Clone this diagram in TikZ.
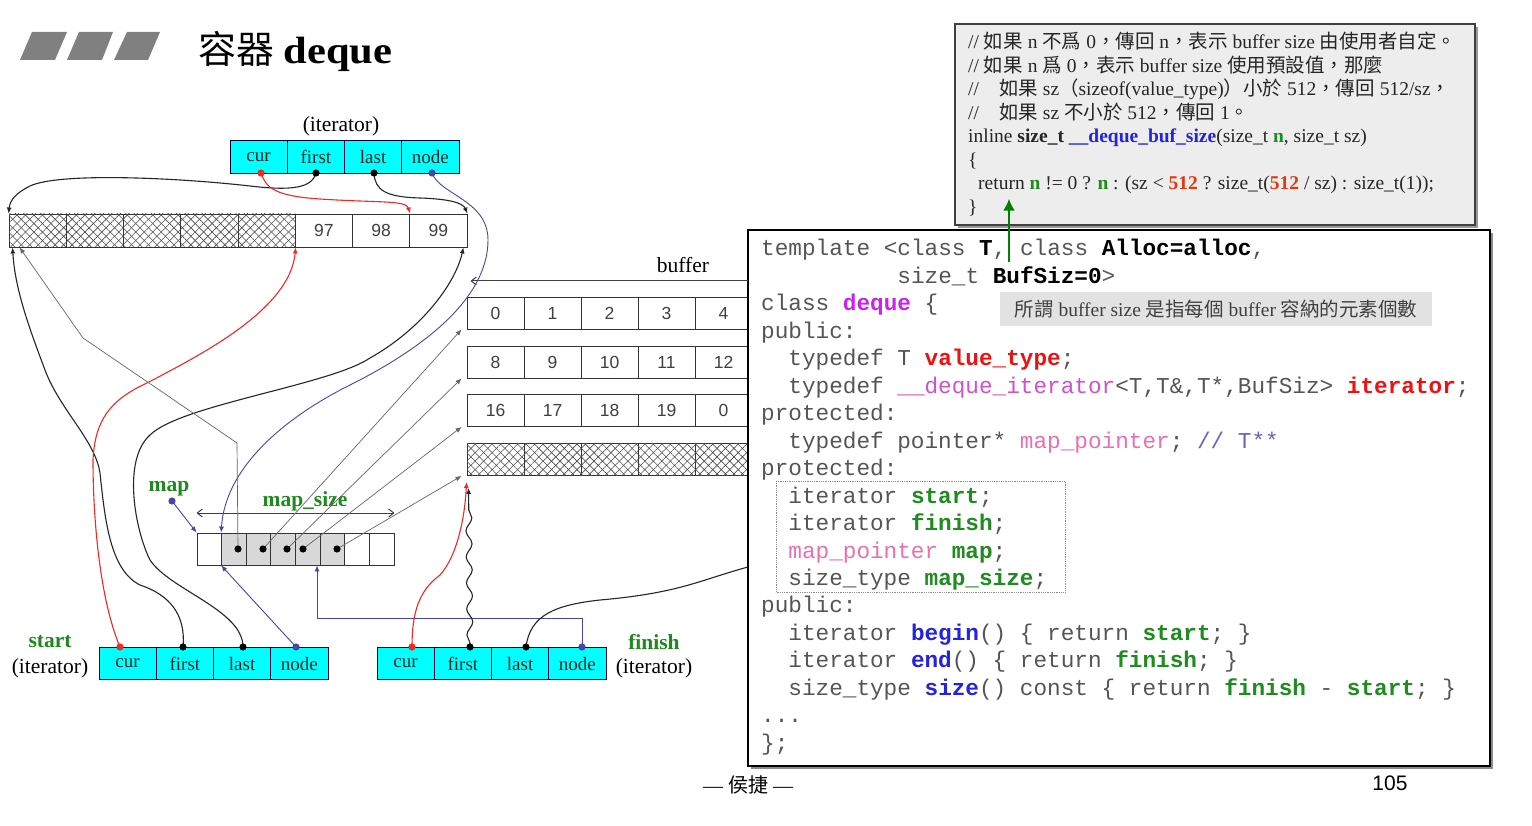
\documentclass[tikz,border=0pt]{standalone}
\usepackage{fontspec}
\setmainfont{Liberation Serif}
\setsansfont{Liberation Sans}
\setmonofont{Liberation Mono}
\newfontfamily\cjk{Noto Sans CJK TC}
\usetikzlibrary{arrows.meta,patterns.meta,decorations.pathmorphing}
\definecolor{cyanc}{HTML}{00FFFF}
\definecolor{labgreen}{HTML}{1E8A1E}
\definecolor{redc}{HTML}{F02828}
\definecolor{bluec}{HTML}{4646A8}
\definecolor{codegray}{HTML}{555555}
\definecolor{cmag}{HTML}{CC22EE}
\definecolor{cpink}{HTML}{E870B0}
\definecolor{cpinkb}{HTML}{D050D0}
\definecolor{cred}{HTML}{F01010}
\definecolor{cgreen}{HTML}{1E8C1E}
\definecolor{cblue}{HTML}{2424E0}
\definecolor{cslate}{HTML}{6464C8}
\definecolor{boxgray}{HTML}{EDEDED}
\definecolor{notegray}{HTML}{E2E2E2}
\definecolor{oranger}{HTML}{E03A10}
\definecolor{mapgray}{HTML}{D8D8D8}
\definecolor{bargray}{HTML}{808080}
\newcommand\cbk[1]{{\bfseries\color{black}#1}}
\newcommand\cmg[1]{{\bfseries\color{cmag}#1}}
\newcommand\crd[1]{{\bfseries\color{cred}#1}}
\newcommand\cgr[1]{{\bfseries\color{cgreen}#1}}
\newcommand\cbl[1]{{\bfseries\color{cblue}#1}}
\tikzset{
  itcell/.style={draw=black!75!blue, fill=cyanc, line width=1pt, minimum width=57.25pt, minimum height=32.5pt, inner sep=0pt, font=\fontsize{19}{21}\selectfont, text=black!85},
  bufcell/.style={draw=black!80, line width=0.9pt, fill=white, minimum width=57.25pt, minimum height=33pt, inner sep=0pt, font=\sffamily\fontsize{17.5}{19}\selectfont, text=black!75},
  rowcell/.style={bufcell, minimum width=57pt, minimum height=32pt},
  hatch/.style={postaction={pattern={Lines[angle=45,distance=6pt,line width=0.6pt]}, pattern color=black!70},
                postaction={pattern={Lines[angle=-45,distance=6pt,line width=0.6pt]}, pattern color=black!70}},
  mapcell/.style={draw=black!80, line width=0.9pt, fill=white, minimum width=24.625pt, minimum height=32pt, inner sep=0pt},
  conn/.style={draw=black!85, line width=1.1pt, -{Latex[length=6pt,width=5pt]}},
  redconn/.style={conn, draw=redc, -{Latex[length=6pt,width=5pt]}},
  blueconn/.style={conn, draw=bluec, line width=0.9pt},
  grayconn/.style={draw=black!60, line width=0.7pt, -{Latex[length=6pt,width=5pt]}},
  lab/.style={inner sep=0pt, font=\fontsize{21.5}{23}\selectfont},
  glab/.style={lab, font=\fontsize{21.5}{23}\selectfont\bfseries, text=labgreen},
  codeline/.style={anchor=base west, inner sep=0pt, font=\fontsize{22.7}{27}\selectfont\ttfamily, text=codegray},
  upline/.style={anchor=base west, inner sep=0pt, font=\fontsize{19.5}{21}\selectfont, text=black!85},
}
\begin{document}
\begin{tikzpicture}[x=1pt,y=-1pt]
\useasboundingbox (0,0) rectangle (1532,826);
\fill[white] (0,0) rectangle (1532,826);

% title bars
\fill[bargray] (32,32) -- (67,32) -- (55,60) -- (20,60) -- cycle;
\fill[bargray] (79,32) -- (113,32) -- (102,60) -- (67,60) -- cycle;
\fill[bargray] (127,32) -- (160,32) -- (148,60) -- (114,60) -- cycle;
\node[anchor=base west, inner sep=0pt, font=\fontsize{38}{42}\selectfont] (title) at (198,64) {{\cjk 容器} \scalebox{1.12}[1]{\textbf{deque}}};

% top iterator
\node[lab] (titer) at (341,126) {(iterator)};
\foreach \n [count=\i from 0] in {cur,first,last,node}
  \node[itcell] (t\n) at ({230+57.25*\i+28.625},157) {\n};

% top buffer
\foreach \i in {0,...,4}
  \node[bufcell, hatch] (b\i) at ({9+57.25*\i+28.625},230.5) {};
\foreach \v [count=\i from 5] in {97,98,99}
  \node[bufcell] (b\i) at ({9+57.25*\i+28.625},230.5) {\v};

% right buffers
\foreach \v [count=\i from 0] in {0,1,2,3,4}
  \node[rowcell] (ra\i) at ({467+57*\i+28.5},313) {\v};
\foreach \v [count=\i from 0] in {8,9,10,11,12}
  \node[rowcell] (rb\i) at ({467+57*\i+28.5},362) {\v};
\foreach \v [count=\i from 0] in {16,17,18,19,0}
  \node[rowcell] (rc\i) at ({467+57*\i+28.5},410.5) {\v};
\foreach \i in {0,...,4}
  \node[rowcell, hatch] (rd\i) at ({467+57*\i+28.5},459.5) {};
\node[lab] (buflab) at (683,265) {buffer};

% map
\foreach \i in {0,...,7}
  \node[mapcell] (mc\i) at ({197+24.625*\i+12.31},549) {};
\foreach \i in {1,...,5}
  \node[mapcell, fill=mapgray] at (mc\i) {};
\node[glab] (maplab) at (169,489) {map};
\node[glab] (msz) at (305,501) {map\_size};
\draw[black!75, line width=1pt, {Straight Barb[length=5pt,width=8pt]}-{Straight Barb[length=5pt,width=8pt]}] (mc0.north west |- 0,513) coordinate (mszL) -- (mc7.north east |- 0,513) coordinate (mszR);

% bottom iterators
\foreach \n [count=\i from 0] in {cur,first,last,node}
  \node[itcell] (s\n) at ({99+57.25*\i+28.625},663.5) {\n};
\foreach \n [count=\i from 0] in {cur,first,last,node}
  \node[itcell] (f\n) at ({377+57.25*\i+28.625},663.5) {\n};
\node[glab] (startlab) at (50,642) {start};
\node[lab] (siter) at (50,668) {(iterator)};
\node[glab] (finlab) at (654,642) {finish};
\node[lab] (fiter) at (654,668) {(iterator)};

% dot coordinates
\coordinate (tcurD) at (261,173);
\coordinate (tfirstD) at (316,173);
\coordinate (tlastD) at (374,173);
\coordinate (tnodeD) at (432,173);
\coordinate (scurD) at (120,647);
\coordinate (sfirstD) at (183,647);
\coordinate (slastD) at (243,647);
\coordinate (snodeD) at (296,647);
\coordinate (fcurD) at (412,647);
\coordinate (ffirstD) at (470,647);
\coordinate (flastD) at (526,647);
\coordinate (fnodeD) at (582,647);
\coordinate (md1) at (238,549);
\coordinate (md2) at (263,549);
\coordinate (md3) at (287,549);
\coordinate (md4) at (303,549);
\coordinate (md5) at (337,549);
\coordinate (mapD) at (172,501);
\coordinate (flastEnd) at (748,567);
\coordinate (bufStart) at (748,281);

% connectors: top iterator to top buffer
\draw[conn] (tfirstD) .. controls (312,188) and (292,191) .. (250,186) .. controls (180,178) and (60,172) .. (30,186) .. controls (16,193) and (10,200) .. (b0.north west);
\draw[redconn] (tcurD) .. controls (266,188) and (275,196) .. (320,199) .. controls (380,203) and (406,200) .. (b6.north east);
\draw[conn] (tlastD) .. controls (375,190) and (385,197) .. (420,198) .. controls (450,199) and (463,203) .. (b7.north east);
\draw[blueconn] (tnodeD) .. controls (440,195) and (488,200) .. (488,240) .. controls (488,300) and (420,350) .. (350,385) .. controls (280,420) and (225,470) .. (mc1.north west);

% start iterator
\draw[conn] (sfirstD) .. controls (186,615) and (170,595) .. (140,585) .. controls (110,570) and (105,520) .. (100,473) .. controls (95,440) and (60,410) .. (45,370) .. controls (30,330) and (15,290) .. ([xshift=4pt]b0.south west);
\draw[conn] (slastD) .. controls (243,610) and (170,590) .. (150,560) .. controls (135,530) and (122,460) .. (150,435) .. controls (180,405) and (330,385) .. (370,358) .. controls (420,330) and (455,285) .. ([xshift=-4pt]b7.south east);
\draw[redconn] (scurD) .. controls (100,600) and (93,520) .. (93,460) .. controls (95,420) and (110,400) .. (147,383) .. controls (200,355) and (290,310) .. (b4.south east);
\draw[blueconn] (snodeD) -- (mc1.south west);
\draw[blueconn] (mapD) -- (mc0.north west);
\draw[grayconn] (md1) -- (237,443) -- (83,338) -- ([xshift=11pt]b0.south west);

% map to buffers
\draw[grayconn] (md2) -- ([xshift=-5pt]ra0.south west);
\draw[grayconn] (md3) -- ([xshift=-5pt]rb0.south west);
\draw[grayconn] (md4) -- ([xshift=-5pt]rc0.south west);
\draw[grayconn] (md5) -- ([xshift=-5pt]rd0.south west);

% finish iterator
\draw[blueconn] (fnodeD) -- (582,618) -- (317,618) -- (mc5.south west -| 317,0);
\draw[redconn] (fcurD) .. controls (412,610) and (420,590) .. (440,575) .. controls (458,555) and (465,515) .. ([yshift=-6pt]rd0.south west);
\draw[conn, decorate, decoration={snake, amplitude=3pt, segment length=26pt, pre length=4pt, post length=10pt}] (ffirstD) -- ([xshift=2pt,yshift=-12pt]rd0.south west);
\draw[draw=black!85, line width=1.1pt] (flastD) .. controls (530,615) and (555,605) .. (600,600) .. controls (680,593) and (700,580) .. (flastEnd);

% dots
\foreach \p in {tcurD,scurD,fcurD} \fill[redc] (\p) circle (3.6pt);
\foreach \p in {tfirstD,tlastD,sfirstD,slastD,ffirstD,flastD,md1,md2,md3,md4,md5} \fill[black] (\p) circle (3.6pt);
\foreach \p in {tnodeD,snodeD,fnodeD,mapD} \fill[bluec] (\p) circle (3.6pt);

% upper gray code box
\fill[black!40] (958,27) rectangle (1478,228);
\node[draw=black!75, line width=1.3pt, fill=boxgray, minimum width=520pt, minimum height=201pt, inner sep=0pt] (ub) at (1215,124.5) {};
\node[upline] (u1) at (968,49) {// {\cjk 如果} n {\cjk 不爲} 0{\cjk ，傳回} n{\cjk ，表示} buffer size {\cjk 由使用者自定。}};
\node[upline] (u2) at (968,72.5) {// {\cjk 如果} n {\cjk 爲} 0{\cjk ，表示} buffer size {\cjk 使用預設值，那麼}};
\node[upline] (u3) at (968,96) {//\hspace{20pt}{\cjk 如果} sz{\cjk （}sizeof(value\_type){\cjk ）小於} 512{\cjk ，傳回} 512/sz{\cjk ，}};
\node[upline] (u4) at (968,119.5) {//\hspace{20pt}{\cjk 如果} sz {\cjk 不小於} 512{\cjk ，傳回} 1{\cjk 。}};
\node[upline] (u5) at (968,143) {inline \textbf{size\_t} \textbf{\color{cblue}\_\_deque\_buf\_size}(size\_t \textbf{\color{cgreen}n}, size\_t sz)};
\node[upline] (u6) at (968,166.5) {\{};
\node[upline] (u7) at (978,190) {return \textbf{\color{cgreen}n} != 0 ? \textbf{\color{cgreen}n} : (sz < \textbf{\color{oranger}512} ? size\_t(\textbf{\color{oranger}512} / sz) : size\_t(1));};
\node[upline] (u8) at (968,213.5) {\}};

% lower code box
\fill[black!45] (751,233) rectangle (1493,769);
\node[draw=black, line width=1.6pt, fill=white, minimum width=742pt, minimum height=536pt, inner sep=0pt] (cb) at (1119,498) {};
\draw[black!75, line width=1pt, -{Straight Barb[length=5pt,width=8pt]}] (bufStart) -- ([xshift=4pt]ra0.north west |- bufStart);
\node[fill=notegray, minimum width=432pt, minimum height=34pt, inner sep=0pt, font=\fontsize{19.5}{21}\selectfont, text=black!75] (note) at (1216,309) {{\cjk 所謂} buffer size {\cjk 是指每個} buffer {\cjk 容納的元素個數}};
\draw[black!45, densely dotted, line width=0.8pt] (776,481) rectangle (1065,592);
\node[codeline] (c1) at (761,256) {template <class \cbk{T}, class \cbk{Alloc=alloc},};
\node[codeline] (c2) at (897.2,283.4) {size\_t \cbk{BufSiz=0}>};
\node[codeline] (c3) at (761,310.9) {class \cmg{deque} \{};
\node[codeline] (c4) at (761,338.3) {public:};
\node[codeline] (c5) at (788.2,365.8) {typedef T \crd{value\_type};};
\node[codeline] (c6) at (788.2,393.2) {typedef {\color{cpinkb}\_\_deque\_iterator}<T,T\&,T*,BufSiz> \crd{iterator};};
\node[codeline] (c7) at (761,420.7) {protected:};
\node[codeline] (c8) at (788.2,448.1) {typedef pointer* {\color{cpink}map\_pointer}; {\color{cslate}// T**}};
\node[codeline] (c9) at (761,475.6) {protected:};
\node[codeline] (c10) at (788.2,503) {iterator \cgr{start};};
\node[codeline] (c11) at (788.2,530.5) {iterator \cgr{finish};};
\node[codeline] (c12) at (788.2,558) {{\color{cpink}map\_pointer} \cgr{map};};
\node[codeline] (c13) at (788.2,585.4) {size\_type \cgr{map\_size};};
\node[codeline] (c14) at (761,612.8) {public:};
\node[codeline] (c15) at (788.2,640.3) {iterator \cbl{begin}() \{ return \cgr{start}; \}};
\node[codeline] (c16) at (788.2,667.7) {iterator \cbl{end}() \{ return \cgr{finish}; \}};
\node[codeline] (c17) at (788.2,695.2) {size\_type \cbl{size}() const \{ return \cgr{finish} - \cgr{start}; \}};
\node[codeline] (c18) at (761,722.6) {...};
\node[codeline] (c19) at (761,750) {\};};

% green arrow
\coordinate (gStart) at (1009,262);
\draw[draw=green!50!black, line width=2.6pt, -{Latex[length=12pt,width=12pt]}] (gStart) -- (ub.south -| gStart) -- ++(0,-27);

% footer
\node[inner sep=0pt, font=\fontsize{20}{22}\selectfont] (foot) at (748,785) {— {\cjk 侯捷} —};
\node[inner sep=0pt, font=\sffamily\fontsize{21}{24}\selectfont] (pg) at (1390,783) {105};
\end{tikzpicture}
\end{document}
